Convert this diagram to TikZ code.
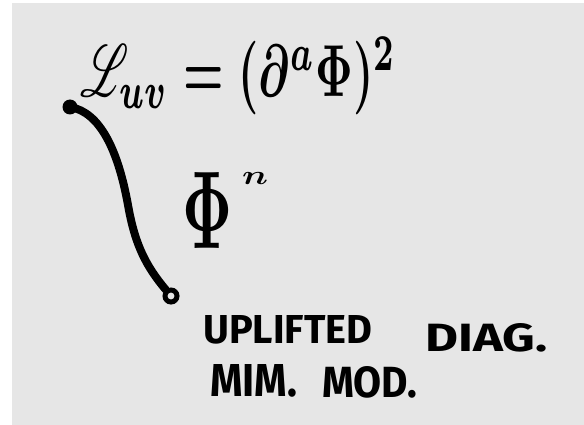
\documentclass[tikz,border=0pt]{standalone}
\usepackage{fontspec}
\usepackage{mathrsfs}
\setsansfont{Fira Sans}
\definecolor{bggray}{RGB}{230,230,230}
\tikzset{
  hand/.style={inner sep=0pt, anchor=base west, font=\sffamily\bfseries},
  mathtxt/.style={inner sep=0pt, anchor=base west},
  connline/.style={draw=black, line width=8pt, line cap=round},
}
\begin{document}
\begin{tikzpicture}[x=1pt, y=-1pt]
  \useasboundingbox (0,0) rectangle (584,425);
  \fill[bggray] (12,3) rectangle (584,425);
  % equations
  \node[mathtxt] (eq) at (80,97) {\resizebox{316pt}{60pt}{\boldmath$\mathscr{L}_{uv}=(\partial^a\Phi)^2$}};
  \node[mathtxt] (phi) at (182,248) {\resizebox{50pt}{76pt}{\boldmath$\Phi$}};
  \node[mathtxt] (pown) at (242,185) {\resizebox{26pt}{12pt}{\boldmath$n$}};
  % connector
  \node[circle, fill=black, inner sep=0pt, minimum size=15pt] (a) at (70,107) {};
  \node[circle, draw=black, line width=5pt, inner sep=0pt, minimum size=12pt] (b) at (171,296) {};
  \path[connline] (a.center) .. controls (100,112) and (118,150) .. (128,205)
                  .. controls (135,245) and (146,266) .. (b);
  % labels
  \node[hand] (l1) at (203,343) {\resizebox{169pt}{28pt}{UPLIFTED}};
  \node[hand] (l2) at (425,351) {\resizebox{122pt}{28pt}{DIAG.}};
  \node[hand] (l3) at (210,396) {\resizebox{87pt}{32pt}{MIM.}};
  \node[hand] (l4) at (322,397) {\resizebox{95pt}{31pt}{MOD.}};
\end{tikzpicture}
\end{document}
